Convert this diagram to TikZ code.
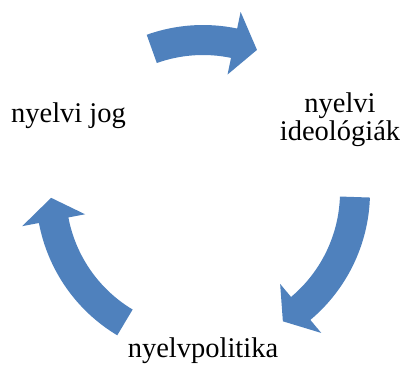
\documentclass[tikz,border=0pt]{standalone}
\usepackage{fontspec}
\setmainfont{Liberation Serif}
\usetikzlibrary{calc}

\definecolor{cycleblue}{RGB}{79,129,189}

\begin{document}
\begin{tikzpicture}[
  x=1pt, y=1pt,
  label/.style={
    inner sep=0pt,
    align=center,
    font=\fontsize{28.5}{28}\selectfont
  },
  blockarrow/.style={
    fill=cycleblue,
    draw=none
  }
]
\useasboundingbox (0,0) rectangle (401,364);

% Centre of the cycle
\coordinate (ctr) at (203,172);

% Labels
\node[label, anchor=base] (jog) at (68.5,241) {nyelvi jog};
\node[label] (ideol) at (340,244) {nyelvi\\ideológiák};
\node[label, anchor=base] (pol) at (203,7) {nyelvpolitika};

% Block arrows: tail angle / head base angle / tip angle
\foreach \ta/\hb/\tp in {109.7/78.2/69.2, -1.9/-50/-58.3, 239.1/190.7/182.2}{
  \fill[blockarrow]
    ($(ctr)+(\ta:167)$) arc[start angle=\ta, end angle=\hb, radius=167]
    -- ($(ctr)+(\hb:184)$)
    -- ($(ctr)+(\tp:152)$)
    -- ($(ctr)+(\hb:120)$)
    -- ($(ctr)+(\hb:137)$) arc[start angle=\hb, end angle=\ta, radius=137]
    -- cycle;
}

\end{tikzpicture}
\end{document}
